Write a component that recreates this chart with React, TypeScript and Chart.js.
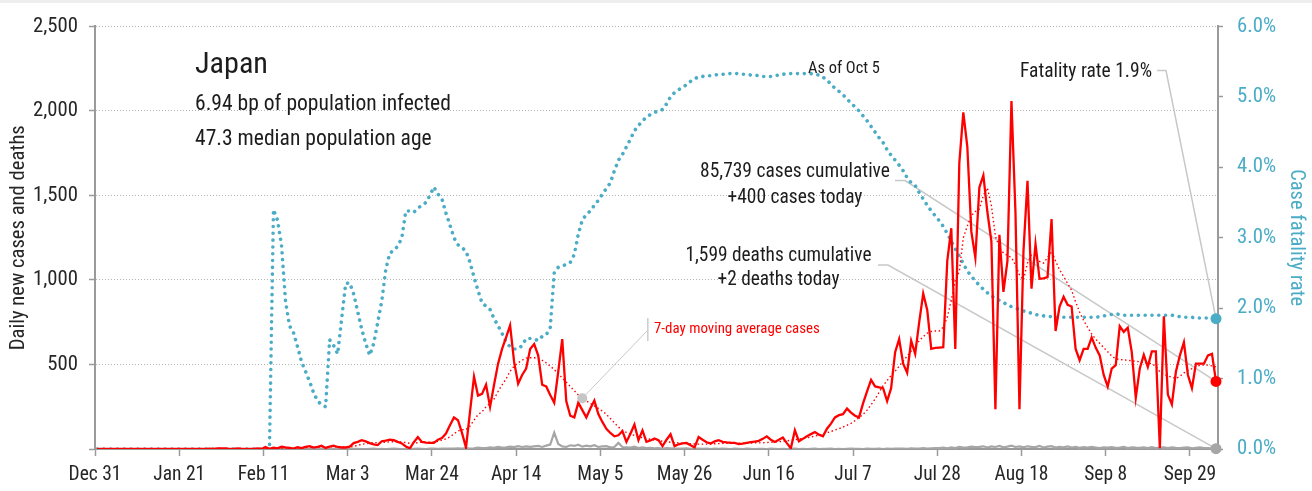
import { useEffect, useRef } from 'react';
import { Chart, registerables } from 'chart.js';

Chart.register(...registerables);

const TEAL = '#4bacc6';
const RED = '#ff0000';
const DEATH_GRAY = '#a6a6a6';
const AXIS_GRAY = '#9a9a9a';
const TEXT = '#1c1c1c';

// x-axis tick labels, one every 21 days starting Dec 31
const tickLabels = ['Dec 31', 'Jan 21', 'Feb 11', 'Mar 3', 'Mar 24', 'Apr 14', 'May 5', 'May 26', 'Jun 16', 'Jul 7', 'Jul 28', 'Aug 18', 'Sep 8', 'Sep 29'];
const tickStepDays = 21;

// Daily new cases, Dec 31 .. Oct 5
const dailyCases = [
  0, 0, 0, 0, 0, 0, 0, 0, 0, 0,
  0, 0, 0, 0, 0, 0, 1, 0, 0, 0,
  0, 0, 0, 0, 1, 1, 1, 0, 2, 1,
  4, 3, 3, 0, 0, 3, 0, 0, 0, 0,
  3, 0, 12, 1, 8, 4, 13, 9, 6, 2,
  11, 5, 12, 17, 8, 12, 19, 6, 14, 20,
  12, 9, 9, 14, 35, 42, 52, 45, 35, 28,
  23, 46, 50, 55, 52, 42, 33, 15, 4, 40,
  71, 42, 38, 36, 36, 55, 65, 91, 140, 187,
  170, 95, 8, 220, 428, 316, 326, 380, 249, 380,
  505, 592, 660, 731, 515, 386, 438, 476, 592, 621,
  554, 380, 370, 320, 274, 457, 650, 284, 197, 187,
  274, 230, 187, 240, 287, 207, 160, 120, 95, 75,
  81, 106, 42, 90, 145, 52, 110, 42, 50, 62,
  52, 17, 55, 87, 17, 28, 33, 36, 22, 10,
  71, 55, 40, 33, 45, 52, 42, 39, 37, 36,
  29, 32, 36, 40, 44, 48, 60, 75, 55, 42,
  55, 68, 35, 4, 110, 46, 60, 75, 88, 100,
  85, 75, 120, 150, 187, 200, 206, 239, 215, 197,
  187, 270, 341, 409, 370, 365, 360, 283, 360, 573,
  650, 505, 451, 640, 563, 750, 920, 823, 592, 598,
  600, 602, 1113, 1306, 592, 1692, 1991, 1788, 1286, 1132,
  1547, 1619, 1402, 1229, 235, 1267, 930, 1113, 2058, 1402,
  235, 1171, 1586, 949, 1213, 1007, 1010, 1017, 1360, 698,
  843, 901, 853, 843, 592, 525, 592, 592, 660, 600,
  554, 438, 370, 476, 496, 727, 693, 718, 573, 303,
  476, 557, 486, 577, 577, 4, 785, 322, 264, 457,
  554, 631, 438, 360, 505, 505, 505, 554, 563, 400,
];

// 7-day moving average of cases (as drawn)
const movingAvgCases = [
  0, 0, 0, 0, 0, 0, 0, 0, 0, 0,
  0, 0, 0, 0, 0, 0, 0.1, 0.1, 0.1, 0.1,
  0.1, 0.1, 0.1, 0.3, 0.4, 0.6, 0.6, 0.6, 0.9, 1,
  1.6, 2, 2.3, 2, 2, 2, 1.7, 1.3, 0.9, 0.9,
  0.9, 0.9, 2.1, 2.1, 3.3, 4, 5.9, 6.7, 7.6, 6.1,
  7.6, 7.1, 8.3, 8.9, 9.3, 9.6, 12, 11.3, 12.6, 13.7,
  13, 13, 12, 12, 16, 21, 28, 31, 35, 38,
  38, 39, 40, 43, 43, 42, 41, 38, 34, 33,
  38, 40, 41, 40, 41, 46, 53, 60, 72, 89,
  107, 114, 115, 136, 171, 203, 220, 250, 270, 296,
  340, 380, 415, 460, 490, 510, 525, 538, 540, 540,
  535, 525, 510, 490, 470, 445, 420, 395, 370, 345,
  320, 300, 285, 270, 255, 240, 225, 205, 180, 155,
  130, 110, 98, 88, 80, 73, 67, 62, 57, 53,
  49, 46, 43, 40, 38, 36, 34, 32, 31, 30,
  29, 29, 29, 30, 31, 32, 33, 33, 33, 33,
  34, 34, 35, 35, 36, 36, 37, 38, 40, 41,
  43, 45, 48, 52, 55, 58, 62, 66, 70, 78,
  80, 88, 96, 104, 112, 120, 130, 140, 152, 168,
  185, 205, 230, 262, 295, 335, 375, 405, 435, 460,
  490, 520, 550, 580, 610, 640, 665, 685, 695, 698,
  698, 720, 780, 880, 1000, 1050, 1250, 1320, 1380, 1405,
  1420, 1500, 1545, 1440, 1260, 1190, 1160, 1145, 1132, 1090,
  1030, 1000, 1100, 1150, 1145, 1110, 1100, 1132, 1171, 1113,
  1060, 1020, 980, 939, 870, 810, 760, 720, 680, 650,
  625, 600, 575, 550, 534, 530, 527, 525, 522, 519,
  516, 512, 508, 505, 490, 457, 442, 432, 425, 418,
  430, 450, 465, 476, 488, 496, 496, 496, 492, 486,
];

// Daily new deaths
const dailyDeaths = [
  0, 0, 0, 0, 0, 0, 0, 0, 0, 0,
  0, 0, 0, 0, 0, 0, 0, 0, 0, 0,
  0, 0, 0, 0, 0, 0, 0, 0, 0, 0,
  0, 0, 0, 0, 0, 0, 0, 0, 0, 0,
  0, 0, 0, 0, 0, 0, 0, 1, 0, 0,
  1, 0, 0, 0, 1, 0, 1, 1, 0, 1,
  1, 1, 0, 1, 1, 1, 0, 0, 1, 2,
  0, 1, 0, 1, 2, 1, 0, 0, 2, 1,
  2, 1, 0, 2, 3, 1, 2, 3, 3, 2,
  4, 2, 5, 3, 4, 8, 6, 5, 10, 7,
  12, 9, 10, 14, 11, 17, 12, 15, 13, 16,
  18, 12, 20, 26, 97, 30, 15, 12, 22, 18,
  25, 14, 20, 16, 22, 12, 15, 17, 10, 12,
  36, 12, 10, 8, 14, 6, 9, 5, 7, 4,
  6, 3, 5, 4, 2, 3, 2, 4, 1, 3,
  2, 1, 2, 0, 3, 1, 2, 1, 0, 2,
  1, 0, 2, 1, 0, 1, 1, 0, 2, 1,
  0, 1, 0, 1, 2, 0, 1, 0, 1, 2,
  0, 1, 1, 2, 0, 1, 0, 1, 2, 1,
  1, 0, 2, 1, 1, 2, 0, 3, 1, 2,
  3, 2, 1, 4, 2, 3, 5, 2, 4, 6,
  5, 8, 4, 10, 6, 12, 8, 10, 14, 11,
  13, 16, 9, 15, 12, 18, 10, 14, 20, 12,
  15, 10, 16, 13, 11, 18, 9, 14, 17, 8,
  12, 10, 15, 9, 13, 7, 11, 8, 12, 9,
  6, 10, 8, 11, 7, 9, 12, 6, 10, 8,
  7, 9, 5, 11, 6, 8, 10, 5, 9, 7,
  6, 8, 10, 4, 7, 9, 5, 6, 4, 2,
];

// Case fatality rate, percent (right axis)
const fatalityRate = [
  0, 0, 0, 0, 0, 0, 0, 0, 0, 0,
  0, 0, 0, 0, 0, 0, 0, 0, 0, 0,
  0, 0, 0, 0, 0, 0, 0, 0, 0, 0,
  0, 0, 0, 0, 0, 0, 0, 0, 0, 0,
  0, 0, 0, 0, 3.4, 3.25, 2.9, 2.1, 1.75, 1.65,
  1.45, 1.24, 1.1, 0.96, 0.8, 0.68, 0.63, 0.6, 1.55, 1.47,
  1.35, 1.85, 2.35, 2.36, 2.2, 1.95, 1.7, 1.5, 1.33, 1.5,
  1.8, 2.1, 2.55, 2.78, 2.82, 2.88, 3.0, 3.38, 3.38, 3.36,
  3.42, 3.46, 3.5, 3.6, 3.72, 3.62, 3.55, 3.35, 3.18, 3.0,
  2.9, 2.86, 2.81, 2.65, 2.44, 2.25, 2.07, 2.03, 1.98, 1.85,
  1.75, 1.64, 1.52, 1.45, 1.42, 1.42, 1.47, 1.57, 1.57, 1.56,
  1.54, 1.6, 1.62, 1.72, 2.5, 2.58, 2.6, 2.62, 2.65, 2.76,
  3.05, 3.25, 3.33, 3.38, 3.46, 3.53, 3.62, 3.7, 3.78, 3.95,
  4.1, 4.18, 4.29, 4.4, 4.52, 4.59, 4.66, 4.71, 4.75, 4.78,
  4.8, 4.82, 4.9, 5.0, 5.06, 5.1, 5.14, 5.17, 5.22, 5.26,
  5.28, 5.29, 5.3, 5.3, 5.31, 5.32, 5.32, 5.33, 5.33, 5.33,
  5.33, 5.32, 5.32, 5.31, 5.31, 5.3, 5.29, 5.29, 5.29, 5.3,
  5.31, 5.32, 5.33, 5.33, 5.33, 5.33, 5.33, 5.33, 5.33, 5.32,
  5.31, 5.28, 5.24, 5.18, 5.12, 5.08, 5.03, 4.97, 4.91, 4.86,
  4.8, 4.73, 4.66, 4.58, 4.5, 4.42, 4.35, 4.25, 4.17, 4.1,
  4.03, 3.95, 3.85, 3.78, 3.74, 3.64, 3.55, 3.46, 3.38, 3.31,
  3.24, 3.16, 3.06, 2.95, 2.84, 2.74, 2.63, 2.53, 2.45, 2.39,
  2.32, 2.27, 2.22, 2.17, 2.14, 2.11, 2.08, 2.05, 2.02, 2.0,
  1.98, 1.96, 1.94, 1.93, 1.91, 1.9, 1.89, 1.88, 1.88, 1.87,
  1.87, 1.87, 1.87, 1.87, 1.87, 1.87, 1.87, 1.87, 1.87, 1.87,
  1.88, 1.89, 1.9, 1.91, 1.92, 1.91, 1.9, 1.9, 1.9, 1.9,
  1.9, 1.9, 1.9, 1.9, 1.9, 1.9, 1.9, 1.9, 1.9, 1.89,
  1.88, 1.87, 1.87, 1.87, 1.86, 1.86, 1.86, 1.86, 1.85, 1.85,
];

const countryName = 'Japan';
const countryFacts = ['6.94 bp of population infected', '47.3 median population age'];
const asOfText = 'As of Oct 5';
const fatalityText = 'Fatality rate 1.9%';
const casesText = ['85,739 cases cumulative', '+400 cases today'];
const deathsText = ['1,599 deaths cumulative', '+2 deaths today'];
const movingAvgLabel = '7-day moving average cases';
const movingAvgLabelDay = 121;
const leftTitle = 'Daily new cases and deaths';
const rightTitle = 'Case fatality rate';

type FontChoice = { stretch: string; family: string };

const fontCandidates: FontChoice[] = [
  { stretch: '', family: "'Noto Sans SemiCondensed'" },
  { stretch: 'semi-condensed', family: "'Noto Sans'" },
  { stretch: '', family: "'Roboto Condensed'" },
  { stretch: 'condensed', family: 'Roboto' },
  { stretch: 'condensed', family: "'Open Sans'" },
  { stretch: '', family: "'Open Sans Condensed'" },
  { stretch: '', family: "'Noto Sans Condensed'" },
  { stretch: 'condensed', family: "'Noto Sans'" },
  { stretch: '', family: "'Liberation Sans Narrow'" },
  { stretch: '', family: "'DejaVu Sans Condensed'" },
  { stretch: '', family: "'Liberation Sans'" },
];

function pickFont(ctx: CanvasRenderingContext2D): FontChoice {
  const sample = 'population infected 85,739 cases';
  ctx.font = "100px 'Liberation Sans'";
  const base = ctx.measureText(sample).width;
  ctx.font = '100px monospace';
  const mono = ctx.measureText(sample).width;
  let best = fontCandidates[fontCandidates.length - 1];
  let bestErr = Infinity;
  for (const c of fontCandidates) {
    ctx.font = `${c.stretch ? c.stretch + ' ' : ''}100px ${c.family}, monospace`;
    const w = ctx.measureText(sample).width;
    if (Math.abs(w - mono) < 0.5) continue;
    const ratio = w / base;
    const err = Math.abs(ratio - 0.88);
    if (err < bestErr - 0.01) {
      bestErr = err;
      best = c;
    }
  }
  return best;
}

function fontStr(f: FontChoice, size: number) {
  return `${f.stretch ? f.stretch + ' ' : ''}${size.toFixed(2)}px ${f.family}`;
}

function fitSize(ctx: CanvasRenderingContext2D, f: FontChoice, text: string, width: number) {
  ctx.font = fontStr(f, 100);
  return (100 * width) / ctx.measureText(text).width;
}

export default function App() {
  const ref = useRef<HTMLCanvasElement>(null);

  useEffect(() => {
    const canvas = ref.current;
    if (!canvas) return;
    const mctx = document.createElement('canvas').getContext('2d') as CanvasRenderingContext2D;
    const F = pickFont(mctx);
    const sz = {
      title: fitSize(mctx, F, countryName, 73),
      facts: (fitSize(mctx, F, countryFacts[0], 258) + fitSize(mctx, F, countryFacts[1], 235)) / 2,
      asOf: fitSize(mctx, F, asOfText, 72),
      fatal: fitSize(mctx, F, fatalityText, 132),
      cases: fitSize(mctx, F, casesText[0], 190),
      deaths: fitSize(mctx, F, deathsText[0], 186),
      ma: fitSize(mctx, F, movingAvgLabel, 166),
      xTick: fitSize(mctx, F, 'Dec 31', 53),
      yTick: fitSize(mctx, F, '2,500', 45),
      rTick: fitSize(mctx, F, '6.0%', 39),
      lTitle: fitSize(mctx, F, leftTitle, 225),
      rTitle: fitSize(mctx, F, rightTitle, 137),
    };
    const cjFont = (size: number) => ({ family: F.family, size, weight: (F.stretch || undefined) as any });

    const overlayPlugin = {
      id: 'overlay',
      beforeDatasetsDraw(chart: any) {
        const { ctx } = chart;
        const xs = chart.scales.x;
        const ys = chart.scales.y;
        const yr = chart.scales.y1;
        const last = dailyCases.length - 1;
        const lx = xs.getPixelForValue(last + 0.5);
        const line = (pts: number[][]) => {
          ctx.beginPath();
          ctx.moveTo(pts[0][0], pts[0][1]);
          for (let i = 1; i < pts.length; i++) ctx.lineTo(pts[i][0], pts[i][1]);
          ctx.stroke();
        };
        ctx.save();
        ctx.strokeStyle = '#c8c8c8';
        ctx.lineWidth = 1.5;
        line([[1157, 70.5], [1166, 70.5], [lx, yr.getPixelForValue(fatalityRate[last])]]);
        line([[895, 180.5], [905, 180.5], [lx, ys.getPixelForValue(dailyCases[last])]]);
        line([[878, 265], [888, 265], [lx, ys.getPixelForValue(dailyDeaths[last])]]);
        const mx = xs.getPixelForValue(movingAvgLabelDay + 0.5);
        const my = ys.getPixelForValue(movingAvgCases[movingAvgLabelDay]);
        ctx.lineWidth = 1;
        line([[647, 331], [mx, my]]);
        ctx.fillStyle = '#cfcfcf';
        ctx.fillRect(647, 318, 1.6, 23);
        ctx.restore();
      },
      afterDatasetsDraw(chart: any) {
        const { ctx } = chart;
        const xs = chart.scales.x;
        const ys = chart.scales.y;
        const yr = chart.scales.y1;
        const last = dailyCases.length - 1;
        const lx = xs.getPixelForValue(last + 0.5);
        const dot = (x: number, y: number, r: number, c: string) => {
          ctx.beginPath();
          ctx.arc(x, y, r, 0, Math.PI * 2);
          ctx.fillStyle = c;
          ctx.fill();
        };
        ctx.save();
        dot(lx, yr.getPixelForValue(fatalityRate[last]), 5.5, TEAL);
        dot(lx, ys.getPixelForValue(dailyCases[last]), 5.5, RED);
        dot(lx, ys.getPixelForValue(dailyDeaths[last]), 5.5, DEATH_GRAY);
        dot(xs.getPixelForValue(movingAvgLabelDay + 0.5), ys.getPixelForValue(movingAvgCases[movingAvgLabelDay]), 5, '#c6c6c6');

        ctx.textBaseline = 'alphabetic';
        ctx.fillStyle = TEXT;
        ctx.textAlign = 'left';
        ctx.font = fontStr(F, sz.title);
        ctx.fillText(countryName, 195, 73);
        ctx.font = fontStr(F, sz.facts);
        ctx.fillText(countryFacts[0], 195, 110);
        ctx.fillText(countryFacts[1], 195, 145);

        ctx.font = fontStr(F, sz.asOf);
        ctx.fillText(asOfText, 808, 73);

        ctx.textAlign = 'right';
        ctx.font = fontStr(F, sz.fatal);
        ctx.fillText(fatalityText, 1152, 77);

        ctx.textAlign = 'center';
        ctx.font = fontStr(F, sz.cases);
        ctx.fillText(casesText[0], 795, 177);
        ctx.fillText(casesText[1], 795, 203);
        ctx.font = fontStr(F, sz.deaths);
        ctx.fillText(deathsText[0], 778.5, 260.5);
        ctx.fillText(deathsText[1], 778.5, 285);

        ctx.textAlign = 'left';
        ctx.fillStyle = RED;
        ctx.font = fontStr(F, sz.ma);
        ctx.fillText(movingAvgLabel, 654, 333);
        ctx.restore();
      },
    };

    const toPoints = (arr: number[]) => arr.map((v, i) => ({ x: i + 0.5, y: v }));

    const chart = new Chart(canvas, {
      type: 'line',
      data: {
        datasets: [
          {
            label: 'Daily new cases',
            data: toPoints(dailyCases),
            yAxisID: 'y',
            borderColor: RED,
            borderWidth: 2.3,
            pointRadius: 0,
            tension: 0,
            order: 0,
          },
          {
            label: '7-day moving average cases',
            data: toPoints(movingAvgCases),
            yAxisID: 'y',
            borderColor: RED,
            borderWidth: 1.4,
            borderDash: [1.5, 2.6],
            pointRadius: 0,
            tension: 0,
            order: 1,
          },
          {
            label: 'Case fatality rate',
            data: toPoints(fatalityRate),
            yAxisID: 'y1',
            borderColor: TEAL,
            borderWidth: 3.6,
            borderDash: [0.01, 6.8],
            borderCapStyle: 'round',
            pointRadius: 0,
            tension: 0,
            order: 2,
          },
          {
            label: 'Daily new deaths',
            data: toPoints(dailyDeaths),
            yAxisID: 'y',
            borderColor: DEATH_GRAY,
            borderWidth: 2.2,
            pointRadius: 0,
            tension: 0,
            order: 3,
          },
        ],
      },
      options: {
        responsive: false,
        animation: false,
        devicePixelRatio: 1,
        layout: { padding: { top: 17, left: 0, right: 0, bottom: 0 } },
        plugins: { legend: { display: false }, tooltip: { enabled: false } },
        scales: {
          x: {
            type: 'linear',
            min: 0,
            max: dailyCases.length,
            afterBuildTicks: (s: any) => {
              s.ticks = tickLabels.map((_, k) => ({ value: k * tickStepDays }));
            },
            afterFit: (s: any) => {
              s.height = 42;
            },
            ticks: {
              autoSkip: false,
              maxRotation: 0,
              minRotation: 0,
              padding: 7,
              color: '#262626',
              font: cjFont(sz.xTick),
              callback: (_v: any, i: number) => tickLabels[i],
            },
            grid: { drawOnChartArea: false, drawTicks: true, tickLength: 7, tickColor: AXIS_GRAY, tickWidth: 1.5 },
            border: { display: true, color: AXIS_GRAY, width: 2 },
          },
          y: {
            position: 'left',
            min: 0,
            max: 2500,
            afterFit: (s: any) => {
              s.width = 95;
            },
            ticks: {
              stepSize: 500,
              padding: 11,
              color: '#262626',
              font: cjFont(sz.yTick),
              callback: (v: any) => (Number(v) === 0 ? '' : Number(v).toLocaleString('en-US')),
            },
            grid: {
              color: (c: any) => (c.tick && c.tick.value === 0 ? 'rgba(0,0,0,0)' : '#b3b3b3'),
              lineWidth: 1,
              drawTicks: true,
              tickLength: 6,
              tickColor: AXIS_GRAY,
              tickWidth: 1.5,
            },
            border: { display: true, color: AXIS_GRAY, width: 2, dash: [1, 2] },
            title: {
              display: true,
              text: leftTitle,
              color: '#262626',
              font: cjFont(sz.lTitle),
              padding: { top: 6, bottom: 0 },
            },
          },
          y1: {
            position: 'right',
            min: 0,
            max: 6,
            afterFit: (s: any) => {
              s.width = 94;
            },
            ticks: {
              stepSize: 1,
              padding: 14,
              color: TEAL,
              font: cjFont(sz.rTick),
              callback: (v: any) => Number(v).toFixed(1) + '%',
            },
            grid: { drawOnChartArea: false, drawTicks: true, tickLength: 5, tickColor: AXIS_GRAY, tickWidth: 1.5 },
            border: { display: true, color: AXIS_GRAY, width: 2 },
            title: {
              display: true,
              text: rightTitle,
              color: TEAL,
              font: cjFont(sz.rTitle),
              padding: { top: 4, bottom: 0 },
            },
          },
        },
      },
      plugins: [overlayPlugin],
    } as any);

    return () => chart.destroy();
  }, []);

  return (
    <div style={{ position: 'absolute', left: 0, top: 0, width: 1312, height: 491, background: '#ffffff', overflow: 'hidden' }}>
      <canvas ref={ref} width={1312} height={491} style={{ display: 'block', width: 1312, height: 491 }} />
      <div style={{ position: 'absolute', left: 0, top: 0, width: 1312, height: 3, background: '#eeeeee' }} />
    </div>
  );
}
